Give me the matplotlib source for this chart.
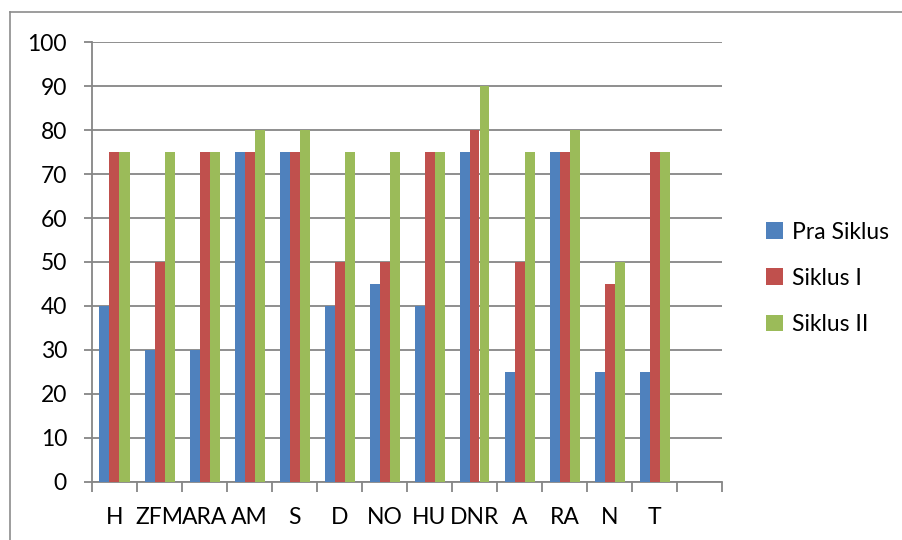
import numpy as np
import matplotlib.pyplot as plt
from matplotlib.lines import Line2D

kategori = ['H', 'ZFM', 'ARA', 'AM', 'S', 'D', 'NO', 'HU', 'DNR', 'A', 'RA', 'N', 'T']
pra_siklus = [40, 30, 30, 75, 75, 40, 45, 40, 75, 25, 75, 25, 25]
siklus_1 = [75, 50, 75, 75, 75, 50, 50, 75, 80, 50, 75, 45, 75]
siklus_2 = [75, 75, 75, 80, 80, 75, 75, 75, 90, 75, 80, 50, 75]

seri = [('Pra Siklus', pra_siklus, '#4F81BD'),
        ('Siklus I', siklus_1, '#C0504D'),
        ('Siklus II', siklus_2, '#9BBB59')]

plt.rcParams['font.family'] = ['Lato', 'DejaVu Sans']

fig = plt.figure(figsize=(9.03, 5.40), dpi=100)
ax = fig.add_axes([92 / 903, 58 / 540, 630 / 903, 440 / 540])

# bingkai luar seperti di Excel
gris = '#8C8C8C'
fig.add_artist(Line2D([10 / 903, 1], [528 / 540, 528 / 540], color=gris, lw=1.2, transform=fig.transFigure))
fig.add_artist(Line2D([10 / 903, 10 / 903], [0, 528 / 540], color=gris, lw=1.2, transform=fig.transFigure))

x = np.arange(len(kategori))
w = 1 / 4.5
for i, (nama, nilai, warna) in enumerate(seri):
    ax.bar(x + (i - 1) * w, nilai, width=w, color=warna, label=nama, zorder=3)

ax.set_xlim(-0.5, len(kategori) + 0.5)
ax.set_ylim(0, 100)
ax.set_yticks(range(0, 101, 10))
ax.set_xticks(x)
ax.set_xticklabels(kategori)
ax.set_xticks(np.arange(-0.5, len(kategori) + 1), minor=True)

ax.grid(axis='y', color='#868686', lw=1.3, zorder=0)
for s in ['top', 'right']:
    ax.spines[s].set_visible(False)
for s in ['left', 'bottom']:
    ax.spines[s].set_color('#868686')
    ax.spines[s].set_linewidth(1.3)

ax.tick_params(axis='y', length=6, color='#868686', width=1.3, pad=12, labelsize=16.5)
ax.tick_params(axis='x', which='major', length=0, pad=18, labelsize=16.5)
ax.tick_params(axis='x', which='minor', length=7, color='#868686', width=1.3)

fig.legend(loc='upper left', bbox_to_anchor=(745 / 903, 339 / 540), frameon=False,
           fontsize=16.5, handlelength=0.75, handleheight=0.75, handletextpad=0.4,
           labelspacing=1.1)

fig.savefig('out.png', dpi=100)
